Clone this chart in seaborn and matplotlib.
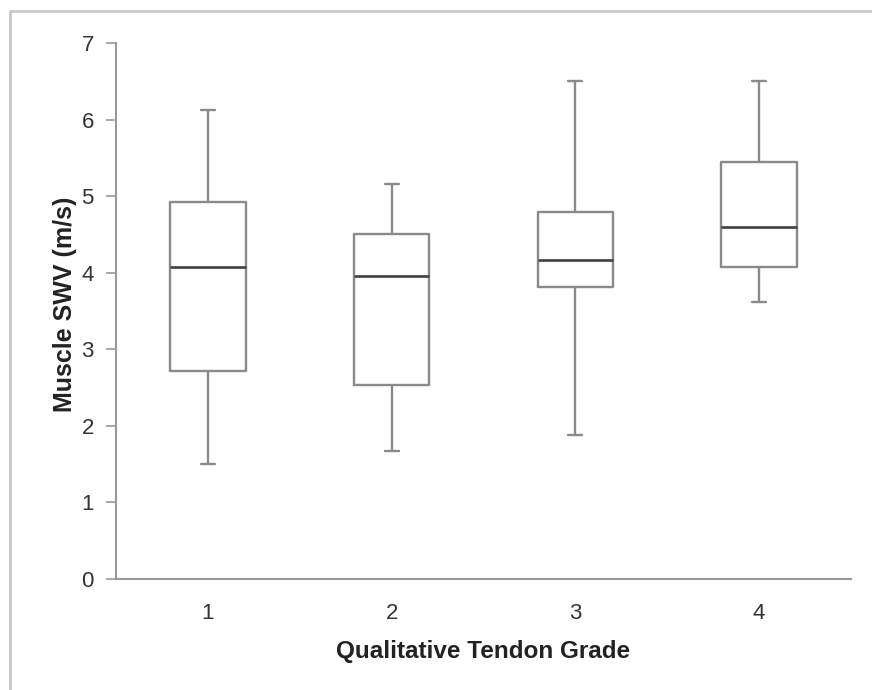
import numpy as np
import pandas as pd
import matplotlib
matplotlib.use("Agg")
import matplotlib.pyplot as plt
from matplotlib.lines import Line2D
import seaborn as sns

grades = ["1", "2", "3", "4"]
whisker_low = [1.50, 1.67, 1.88, 3.62]
q1 = [2.72, 2.54, 3.81, 4.07]
median = [4.07, 3.96, 4.17, 4.60]
q3 = [4.93, 4.51, 4.79, 5.44]
whisker_high = [6.12, 5.16, 6.50, 6.50]

rows = []
for g, a, b, c, d, e in zip(grades, whisker_low, q1, median, q3, whisker_high):
    for v in (a, b, c, d, e):
        rows.append({"grade": g, "swv": v})
df = pd.DataFrame(rows)

sns.set_theme(style="white")
plt.rcParams["font.family"] = ["Liberation Sans", "DejaVu Sans"]

fig = plt.figure(figsize=(8.72, 6.90), dpi=100)
ax = fig.add_axes([116 / 872, 1 - 579 / 690, (851 - 116) / 872, (579 - 43) / 690])

line_gray = "#8a8a8a"
sns.boxplot(data=df, x="grade", y="swv", order=grades, ax=ax, whis=(0, 100),
            width=0.41, fill=False, color=line_gray, linewidth=1.7,
            medianprops=dict(color="#404040", linewidth=1.9),
            capwidths=0.076)

ax.set_ylim(0, 7)
ax.set_xlim(-0.5, 3.5)
ax.set_yticks(range(0, 8))
ax.set_xticks(range(4))
ax.set_xticklabels(grades)
ax.set_xticks(np.arange(-0.5, 4.0, 1.0), minor=True)
ax.tick_params(axis="x", which="major", length=0, pad=17, labelsize=16, labelcolor="#333333")
ax.tick_params(axis="x", which="minor", length=6, width=1.2, color="#999999", direction="out")
ax.tick_params(axis="y", length=7, width=1.2, color="#999999", direction="out",
               labelsize=16, labelcolor="#333333", pad=9, left=True)
for s in ["top", "right"]:
    ax.spines[s].set_visible(False)
for s in ["left", "bottom"]:
    ax.spines[s].set_color("#999999")
    ax.spines[s].set_linewidth(1.5)

ax.set_xlabel("Qualitative Tendon Grade", fontsize=17.5, fontweight="bold", color="#222222", labelpad=12)
ax.set_ylabel("Muscle SWV (m/s)", fontsize=18, fontweight="bold", color="#222222")
ax.yaxis.set_label_coords(-0.053, 0.513)

fig.add_artist(Line2D([10 / 872, 10 / 872], [0, 1 - 11 / 690], transform=fig.transFigure,
                      color="#c8c8c8", linewidth=2))
fig.add_artist(Line2D([10 / 872, 1], [1 - 11 / 690, 1 - 11 / 690], transform=fig.transFigure,
                      color="#c8c8c8", linewidth=2))

fig.savefig("out.png", dpi=100)
